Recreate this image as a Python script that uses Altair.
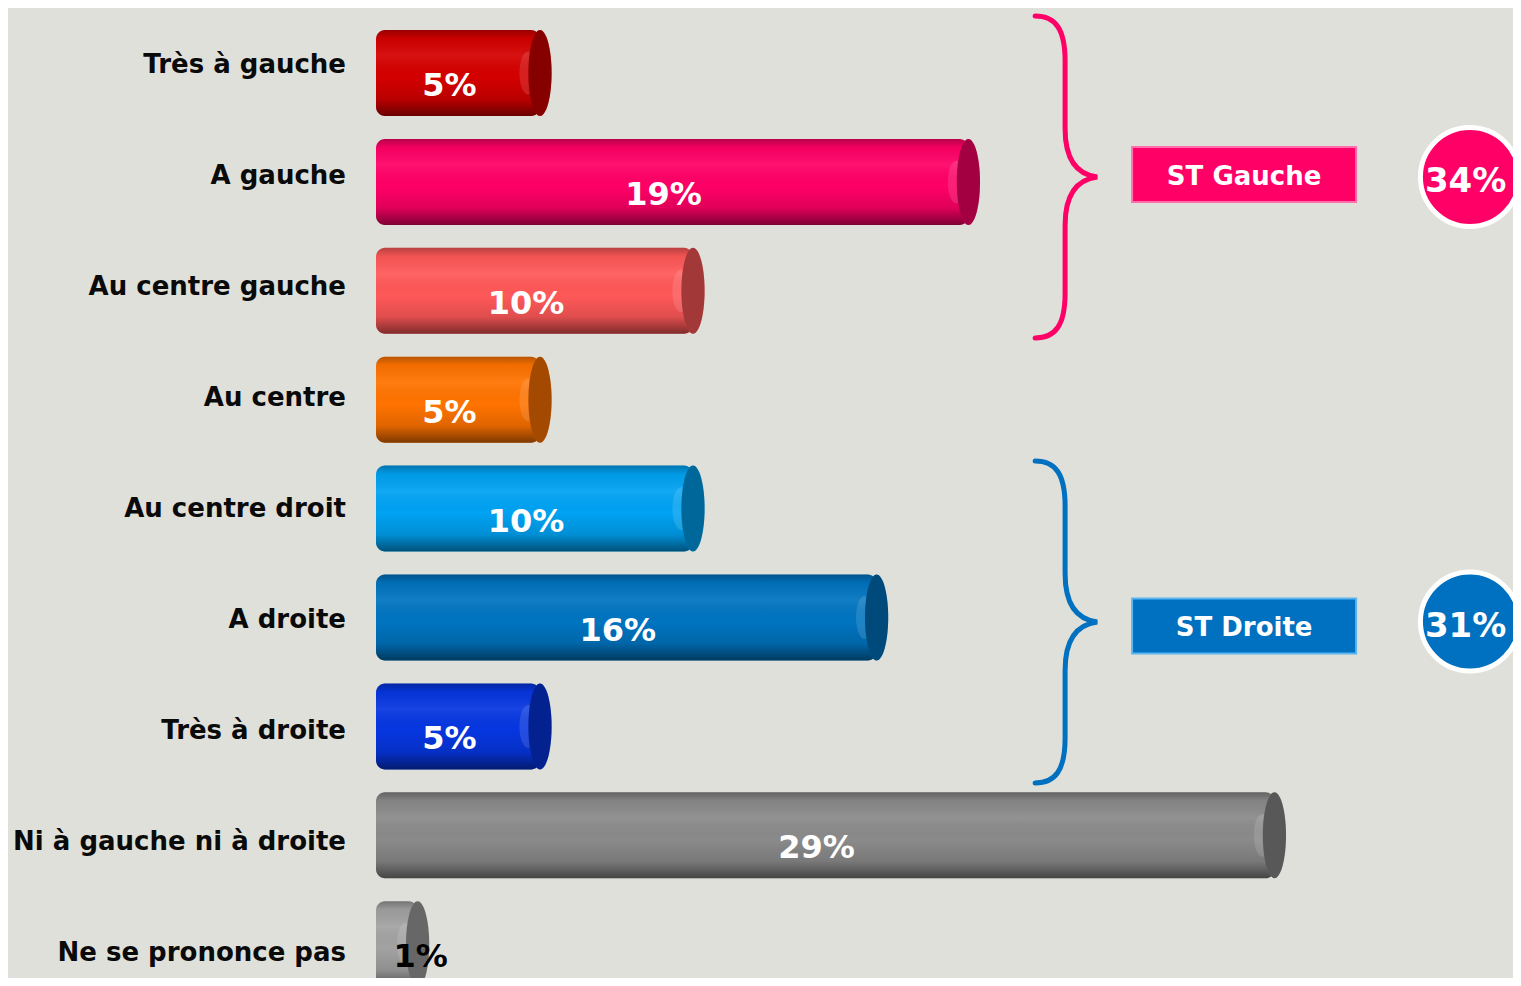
import altair as alt
import pandas as pd

# ---------------- data ----------------
categories = ["Très à gauche", "A gauche", "Au centre gauche", "Au centre",
              "Au centre droit", "A droite", "Très à droite",
              "Ni à gauche ni à droite", "Ne se prononce pas"]
values = [5, 19, 10, 5, 10, 16, 5, 29, 1]
bar_colors = ["#d40000", "#ff0066", "#ff5858", "#ff7300", "#00a2f2",
              "#0074c0", "#0636e0", "#8a8a8a", "#a2a2a2"]

groups = ["ST Gauche", "ST Droite"]
group_totals = [34, 31]
group_colors = ["#ff0066", "#0070c0"]
group_edge = ["#ff6fae", "#5ab4f0"]

df = pd.DataFrame({
    "cat": categories,
    "v": values,
    "label": [f"{v}%" for v in values],
    "color": bar_colors,
})
gdf = pd.DataFrame({
    "group": groups,
    "total": [f"{t}%" for t in group_totals],
    "color": group_colors,
    "edge": group_edge,
})

W, H = 1505, 970
PX_PER_UNIT = 30.6
X0 = 379.0                      # pixel of value 0
x_domain = [-X0 / PX_PER_UNIT, (W - X0) / PX_PER_UNIT]
xscale = alt.Scale(domain=x_domain, nice=False, zero=False)

FONT = "DejaVu Sans"

ybar = alt.Y("cat:N", sort=categories, axis=None,
             scale=alt.Scale(domain=categories, range=[10.55, 990.65],
                             paddingInner=0.21, paddingOuter=0.105))
ylab = alt.Y("cat:N", sort=categories, axis=None,
             scale=alt.Scale(type="point", domain=categories,
                             range=[54.5, 942.5], padding=0))

base = alt.Chart(df)

body = base.mark_bar(cornerRadius=9).encode(
    x=alt.X("v:Q", scale=xscale, axis=None),
    x2=alt.datum(-11 / PX_PER_UNIT),
    y=ybar,
    fill=alt.Fill("color:N", scale=None),
)

shade_grad = alt.Gradient(
    gradient="linear", x1=0, y1=0, x2=0, y2=1,
    stops=[
        alt.GradientStop(color="rgba(0,0,0,0.28)", offset=0),
        alt.GradientStop(color="rgba(0,0,0,0.05)", offset=0.1),
        alt.GradientStop(color="rgba(255,255,255,0.07)", offset=0.3),
        alt.GradientStop(color="rgba(0,0,0,0)", offset=0.55),
        alt.GradientStop(color="rgba(0,0,0,0.12)", offset=0.8),
        alt.GradientStop(color="rgba(0,0,0,0.5)", offset=1),
    ],
)
shade = base.mark_bar(cornerRadius=9, fill=shade_grad).encode(
    x=alt.X("v:Q", scale=xscale, axis=None),
    x2=alt.datum(-11 / PX_PER_UNIT),
    y=ybar,
)

ELLIPSE = "M0,-1 A0.27,1 0 1,1 0,1 A0.27,1 0 1,1 0,-1 Z"
HILITE = "M0,-0.5 A0.2,0.5 0 1,1 0,0.5 A0.2,0.5 0 1,1 0,-0.5 Z"

hilite = base.mark_point(shape=HILITE, size=86 * 86, filled=True, opacity=1,
                         fill="white", fillOpacity=0.12, strokeWidth=0,
                         xOffset=-12).encode(
    x=alt.X("v:Q", scale=xscale), y=ybar)

cap = base.mark_point(shape=ELLIPSE, size=86 * 86, filled=True, opacity=1,
                      strokeWidth=0).encode(
    x=alt.X("v:Q", scale=xscale),
    y=ybar,
    fill=alt.Fill("color:N", scale=None),
)
cap_dark = base.mark_point(shape=ELLIPSE, size=86 * 86, filled=True, opacity=1,
                           fill="black", fillOpacity=0.36, strokeWidth=0).encode(
    x=alt.X("v:Q", scale=xscale),
    y=ybar,
)

values_text = base.transform_calculate(
    tx="datum.v < 3 ? datum.v + 0.1 : datum.v / 2 - 0.46",
    tc="datum.v < 3 ? '#000000' : '#ffffff'",
).mark_text(font=FONT, fontWeight="bold", fontSize=32, align="center",
            baseline="middle", dy=13).encode(
    x=alt.X("tx:Q", scale=xscale),
    y=ybar,
    text="label:N",
    color=alt.Color("tc:N", scale=None),
)

labels = base.mark_text(font=FONT, fontWeight="bold", fontSize=26,
                        align="right", baseline="middle", dy=2,
                        color="#0a0a0a").encode(
    x=alt.datum(-1.34),
    y=ylab,
    text="cat:N",
)

gbase = alt.Chart(gdf)


def gy(rng):
    return alt.Y("group:N", sort=groups, axis=None,
                 scale=alt.Scale(type="point", domain=groups, range=rng, padding=0))


BRACE = ("M-0.186,-1 C-0.06,-1 0,-0.92 0,-0.72 L0,-0.3 "
         "C0,-0.1 0.08,-0.015 0.2,0 C0.08,0.015 0,0.1 0,0.3 "
         "L0,0.72 C0,0.92 -0.06,1 -0.186,1")
braces = gbase.mark_point(shape=BRACE, size=322 * 322, filled=False, opacity=1,
                          strokeWidth=5, strokeCap="round").encode(
    x=alt.datum(22.16),
    y=gy([169, 614]),
    stroke=alt.Stroke("color:N", scale=None),
)

RECT = "M-1,-0.245 L1,-0.245 L1,0.245 L-1,0.245 Z"
boxes = gbase.mark_point(shape=RECT, size=224 * 224, filled=True, opacity=1,
                         strokeWidth=2).encode(
    x=alt.datum(28.01),
    y=gy([166.5, 618]),
    fill=alt.Fill("color:N", scale=None),
    stroke=alt.Stroke("edge:N", scale=None),
)
box_text = gbase.mark_text(font=FONT, fontWeight="bold", fontSize=26,
                           align="center", baseline="middle", dy=2,
                           color="white").encode(
    x=alt.datum(28.01),
    y=gy([166.5, 618]),
    text="group:N",
)

circles = gbase.mark_point(shape="circle", size=99 * 99, filled=True, opacity=1,
                           stroke="white", strokeWidth=5).encode(
    x=alt.datum(35.39),
    y=gy([169, 613.5]),
    fill=alt.Fill("color:N", scale=None),
)
circle_text = gbase.mark_text(font=FONT, fontWeight="bold", fontSize=34,
                              align="left", baseline="middle", dy=5,
                              color="white").encode(
    x=alt.datum(33.92),
    y=gy([169, 613.5]),
    text="total:N",
)

chart = alt.layer(
    body, shade, hilite, cap, cap_dark, values_text, labels,
    braces, boxes, box_text, circles, circle_text,
).resolve_scale(y="independent").properties(
    width=W, height=H,
    autosize=alt.AutoSizeParams(type="none"),
    padding=0,
    background="#e0e0da",
).configure_view(stroke=None)

chart.save("out.html", embed_options={"renderer": "svg", "actions": False})
